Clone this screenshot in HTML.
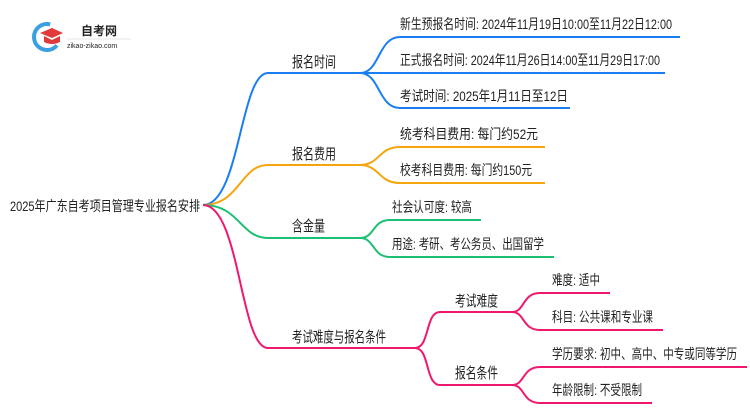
<!DOCTYPE html>
<html><head><meta charset="utf-8"><style>
body{margin:0;background:#fff;}
svg text{font-family:"Liberation Sans","Noto Sans CJK SC",sans-serif;fill:#222;}
</style></head><body>
<svg width="750" height="410" viewBox="0 0 750 410" xmlns="http://www.w3.org/2000/svg" fill="none" stroke-width="2">
<!-- logo -->
<circle cx="47" cy="37" r="13" fill="none" stroke="#3aa0e0" stroke-width="4" stroke-dasharray="55 30" transform="rotate(40 47 37)"/>
<path d="M40 33 L52 28 L63 33 L52 38 Z" fill="#e03a3a" stroke="none"/>
<path d="M44 36 L44 42 Q52 46 60 42 L60 36 L52 40 Z" fill="#e03a3a" stroke="none"/>
<text x="81" y="35" font-size="12" font-weight="bold" fill="#333">自考网</text>
<line x1="67" y1="39" x2="131" y2="39" stroke="#ccc" stroke-width="0.5"/>
<text x="67" y="48" font-size="7" fill="#666">zikao-zikao.com</text>
<!-- root -->
<text x="10" y="211" font-size="14" textLength="190" lengthAdjust="spacingAndGlyphs">2025年广东自考项目管理专业报名安排</text>
<!-- blue -->
<g stroke="#1a7ef2">
<path d="M203 205 C240 205 240 73 268 73 L360 73"/>
<path d="M360 73 C380 73 378 37 400 37 L680 37"/>
<path d="M360 73 L665 73"/>
<path d="M360 73 C380 73 378 108 400 108 L570 108"/>
</g>
<!-- orange -->
<g stroke="#f5a50e">
<path d="M203 205 C240 205 240 165 268 165 L360 165"/>
<path d="M360 165 C380 165 378 147 400 147 L545 147"/>
<path d="M360 165 C380 165 378 183 400 183 L545 183"/>
</g>
<!-- green -->
<g stroke="#1dbf73">
<path d="M203 205 C240 205 240 238 268 238 L360 238"/>
<path d="M360 238 C375 238 372 220 390 220 L481 220"/>
<path d="M360 238 C375 238 372 257 390 257 L554 257"/>
</g>
<!-- pink -->
<g stroke="#f0186e">
<path d="M203 205 C240 205 240 348 268 348 L415 348"/>
<path d="M415 348 C430 348 425 312 440 312 L512 312"/>
<path d="M415 348 C430 348 425 385 440 385 L512 385"/>
<path d="M512 312 C525 312 522 293 540 293 L610 293"/>
<path d="M512 312 C525 312 522 330 540 330 L663 330"/>
<path d="M512 385 C525 385 522 367 540 367 L747 367"/>
<path d="M512 385 C525 385 522 403 540 403 L652 403"/>
</g>
<g font-size="15" lengthAdjust="spacingAndGlyphs">
<text x="292" y="67" textLength="44" lengthAdjust="spacingAndGlyphs">报名时间</text>
<text x="292" y="159" textLength="44" lengthAdjust="spacingAndGlyphs">报名费用</text>
<text x="292" y="231" textLength="33" lengthAdjust="spacingAndGlyphs">含金量</text>
<text x="292" y="342" textLength="94" lengthAdjust="spacingAndGlyphs">考试难度与报名条件</text>
<text x="455" y="306" textLength="43" lengthAdjust="spacingAndGlyphs">考试难度</text>
<text x="455" y="378" textLength="43" lengthAdjust="spacingAndGlyphs">报名条件</text>
</g>
<g font-size="14">
<text x="400" y="29" textLength="272" lengthAdjust="spacingAndGlyphs">新生预报名时间: 2024年11月19日10:00至11月22日12:00</text>
<text x="400" y="65" textLength="260" lengthAdjust="spacingAndGlyphs">正式报名时间: 2024年11月26日14:00至11月29日17:00</text>
<text x="400" y="101" textLength="168" lengthAdjust="spacingAndGlyphs">考试时间: 2025年1月11日至12日</text>
<text x="400" y="139" textLength="138" lengthAdjust="spacingAndGlyphs">统考科目费用: 每门约52元</text>
<text x="400" y="175" textLength="132" lengthAdjust="spacingAndGlyphs">校考科目费用: 每门约150元</text>
<text x="392" y="212" textLength="80" lengthAdjust="spacingAndGlyphs">社会认可度: 较高</text>
<text x="392" y="249" textLength="152" lengthAdjust="spacingAndGlyphs">用途: 考研、考公务员、出国留学</text>
<text x="552" y="285" textLength="48" lengthAdjust="spacingAndGlyphs">难度: 适中</text>
<text x="552" y="322" textLength="101" lengthAdjust="spacingAndGlyphs">科目: 公共课和专业课</text>
<text x="552" y="359" textLength="185" lengthAdjust="spacingAndGlyphs">学历要求: 初中、高中、中专或同等学历</text>
<text x="552" y="395" textLength="90" lengthAdjust="spacingAndGlyphs">年龄限制: 不受限制</text>
</g>
</svg>
</body></html>
